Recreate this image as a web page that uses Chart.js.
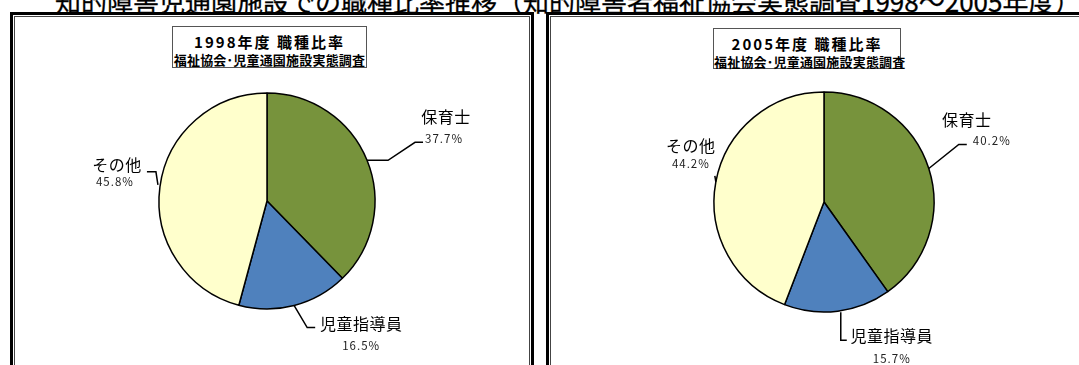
<!DOCTYPE html>
<html>
<head>
<meta charset="utf-8">
<script src="https://cdn.jsdelivr.net/npm/chart.js@4"></script>
<style>
  html, body { margin: 0; padding: 0; background: #fff; overflow: hidden; }
  body { width: 1079px; height: 365px; position: relative; font-family: "Noto Sans CJK JP", sans-serif; }
  .main-title { position: absolute; left: 55px; top: -13px; font-size: 26px; font-weight: normal; white-space: nowrap; color: #000; line-height: 28px; -webkit-text-stroke: 0.3px #000; }
  .panel { position: absolute; top: 12px; height: 400px; border: 3px solid #000; box-shadow: inset 0 0 0 1px #fff, inset 0 0 0 2px #444; box-sizing: border-box; }
  .tbox { position: absolute; border: 1px solid #555; background: #fff; text-align: center; box-sizing: border-box; color: #000; white-space: nowrap; }
  .tbox .l1 { font-size: 15px; font-weight: bold; line-height: 16px; margin-top: 7px; letter-spacing: 2px; }
  .tbox .l2 { font-size: 13px; font-weight: bold; line-height: 14px; margin-top: 3px; letter-spacing: 0.2px; }
  canvas { position: absolute; top: 0; }
</style>
</head>
<body>
<div class="main-title">知的障害児通園施設での職種比率推移（知的障害者福祉協会実態調査1998～2005年度）</div>
<div class="panel" style="left:10px; width:524px;"></div>
<div class="panel" style="left:546px; width:560px;"></div>
<div class="tbox" style="left:172px; top:26px; width:195px; height:42px;"><div class="l1" id="t0"></div><div class="l2">福祉協会･児童通園施設実態調査</div></div>
<div class="tbox" style="left:713px; top:28px; width:188px; height:41px;"><div class="l1" id="t1"></div><div class="l2">福祉協会･児童通園施設実態調査</div></div>
<canvas id="pie-1998" width="534" height="402" style="left:0px;"></canvas>
<canvas id="pie-2005" width="534" height="404" style="left:557px;"></canvas>
<script>
// 職種 and shares (%)
const categories = ['保育士', '児童指導員', 'その他'];
const years = ['1998年度', '2005年度'];
const share1998 = [37.7, 16.5, 45.8];
const share2005 = [40.2, 15.7, 44.2];
const sliceColors = ['#77933C', '#4F81BD', '#FFFFCC'];

document.getElementById('t0').innerText = years[0] + ' 職種比率';
document.getElementById('t1').innerText = years[1] + ' 職種比率';

// leader lines / label offsets, relative to the slice's outer edge at mid angle
const layout1998 = [
    { line: [[0, 0], [21, 0], [48, -18], [56, -18]], name: [79, -43], pct: [77, -22] },
    { line: [[0, 0], [13, 22], [21, 22]], name: [67, 18], pct: [67, 40] },
    { line: [[-2, -2], [-4, -15], [-13, -15]], name: [-43, -22], pct: [-45, -5] }
];
const layout2005 = [
    { line: [[0, 0], [30, -24], [38, -24]], name: [38, -49], pct: [63, -28] },
    { line: [[3, 1], [3, 29], [9, 29]], name: [54, 25], pct: [54, 47] },
    { line: [[0, 0], [-1, -6]], name: [-25, -36], pct: [-25, -18] }
];

const calloutPlugin = {
    id: 'callouts',
    afterDatasetsDraw(chart, args, opts) {
        const ctx = chart.ctx;
        const meta = chart.getDatasetMeta(0);
        const values = chart.data.datasets[0].data;
        ctx.save();
        meta.data.forEach((arc, i) => {
            const lay = opts.layout[i];
            const mid = (arc.startAngle + arc.endAngle) / 2;
            const ex = arc.x + Math.cos(mid) * arc.outerRadius;
            const ey = arc.y + Math.sin(mid) * arc.outerRadius;
            ctx.strokeStyle = '#000';
            ctx.lineWidth = 1.5;
            ctx.beginPath();
            lay.line.forEach((p, k) => {
                if (k === 0) ctx.moveTo(ex + p[0], ey + p[1]);
                else ctx.lineTo(ex + p[0], ey + p[1]);
            });
            ctx.stroke();
            ctx.fillStyle = '#000';
            ctx.textAlign = 'center';
            ctx.textBaseline = 'middle';
            ctx.letterSpacing = '0.5px';
            ctx.font = '16px "Noto Sans CJK JP"';
            ctx.fillText(chart.data.labels[i], ex + lay.name[0], ey + lay.name[1]);
            ctx.letterSpacing = '1px';
            ctx.font = '11.5px "Noto Sans CJK JP"';
            ctx.fillStyle = '#222';
            ctx.fillText(values[i].toFixed(1) + '%', ex + lay.pct[0], ey + lay.pct[1]);
        });
        ctx.restore();
    }
};

function makePie(id, values, layout, radius) {
    const ctx = document.getElementById(id).getContext('2d');
    return new Chart(ctx, {
        type: 'pie',
        data: {
            labels: categories,
            datasets: [{
                data: values,
                backgroundColor: sliceColors,
                borderColor: '#000',
                borderWidth: 1.5,
                radius: radius
            }]
        },
        options: {
            responsive: false,
            animation: false,
            events: [],
            plugins: {
                legend: { display: false },
                tooltip: { enabled: false },
                callouts: { layout: layout }
            }
        },
        plugins: [calloutPlugin]
    });
}

makePie('pie-1998', share1998, layout1998, 108);
makePie('pie-2005', share2005, layout2005, 110);
</script>
</body>
</html>
